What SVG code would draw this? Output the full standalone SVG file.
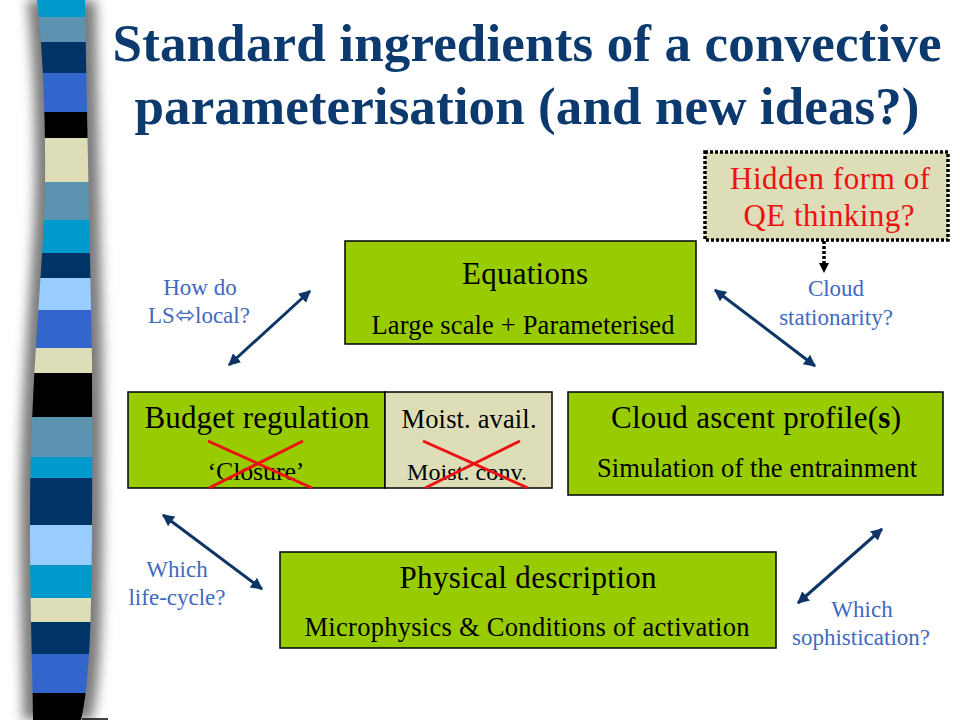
<svg xmlns="http://www.w3.org/2000/svg" width="960" height="720" viewBox="0 0 960 720">
<defs>
<style>
.box{fill:#99cc00;stroke:#000;stroke-width:1.5}
.beige{fill:#ddddb8;stroke:#000;stroke-width:1.5}
.t{font-family:"Liberation Serif","Times New Roman",serif;fill:#000;text-anchor:middle}
.h{font-size:31px}
.s{font-size:26.5px}
.lbl{font-family:"Liberation Serif","Times New Roman",serif;fill:#4169c0;font-size:23px;text-anchor:middle}
.title{font-family:"Liberation Serif","Times New Roman",serif;font-weight:bold;font-size:53px;fill:#0c3a6e;text-anchor:middle}
.red{font-family:"Liberation Serif","Times New Roman",serif;fill:#ee1111;font-size:31px;text-anchor:middle}
.arr{stroke:#0d3566;stroke-width:3;fill:none;marker-start:url(#ah);marker-end:url(#ah)}
.cross{stroke:#ee1111;stroke-width:3}
</style>
<marker id="ah" viewBox="0 0 10 10" refX="9" refY="5" markerWidth="4" markerHeight="4" orient="auto-start-reverse" markerUnits="strokeWidth">
<path d="M0,0 L10,5 L0,10 Z" fill="#0d3566"/>
</marker>
<clipPath id="stripeClip">
<path d="M37,0 C44,60 47,150 44,220 C40,300 30,400 30,520 C30,620 33,680 33,720 L81,720 C86,700 90,660 91,600 C93,500 92,400 92,360 C90,250 87,120 85,0 Z"/>
</clipPath>
<filter id="blur" x="-50%" y="-10%" width="200%" height="120%">
<feGaussianBlur stdDeviation="6"/>
</filter>
</defs>
<rect width="960" height="720" fill="#fff"/>

<g id="stripe-bar">
<path d="M27,0 C34,60 37,150 34,220 C30,300 20,400 20,520 C20,620 23,680 23,720 L92,720 C97,700 101,660 102,600 C104,500 103,400 103,360 C101,250 98,120 96,0 Z" fill="#7c7c7c" filter="url(#blur)"/>
<g clip-path="url(#stripeClip)">
<rect x="0" y="0" width="100" height="17" fill="#0099cc"/>
<rect x="0" y="17" width="100" height="25" fill="#5b93b0"/>
<rect x="0" y="42" width="100" height="31" fill="#003366"/>
<rect x="0" y="73" width="100" height="39" fill="#3366cc"/>
<rect x="0" y="112" width="100" height="26" fill="#000000"/>
<rect x="0" y="138" width="100" height="44" fill="#ddddb8"/>
<rect x="0" y="182" width="100" height="38" fill="#5b93b0"/>
<rect x="0" y="220" width="100" height="33" fill="#0099cc"/>
<rect x="0" y="253" width="100" height="25" fill="#003366"/>
<rect x="0" y="278" width="100" height="32" fill="#99ccff"/>
<rect x="0" y="310" width="100" height="38" fill="#3366cc"/>
<rect x="0" y="348" width="100" height="25" fill="#ddddb8"/>
<rect x="0" y="373" width="100" height="44" fill="#000000"/>
<rect x="0" y="417" width="100" height="40" fill="#5b93b0"/>
<rect x="0" y="457" width="100" height="21" fill="#0099cc"/>
<rect x="0" y="478" width="100" height="47" fill="#003366"/>
<rect x="0" y="525" width="100" height="40" fill="#99ccff"/>
<rect x="0" y="565" width="100" height="33" fill="#0099cc"/>
<rect x="0" y="598" width="100" height="24" fill="#ddddb8"/>
<rect x="0" y="622" width="100" height="32" fill="#003366"/>
<rect x="0" y="654" width="100" height="39" fill="#3366cc"/>
<rect x="0" y="693" width="100" height="27" fill="#000000"/>
</g>
<line x1="82" y1="719" x2="108" y2="719" stroke="#000" stroke-width="1.5"/>
</g>

<g id="title">
<text class="title" x="527" y="61" textLength="829">Standard ingredients of a convective</text>
<text class="title" x="527" y="124" textLength="785">parameterisation (and new ideas?)</text>
</g>

<g id="connectors">
<line class="arr" x1="229" y1="365" x2="310" y2="291"/>
<line class="arr" x1="715" y1="290" x2="815" y2="366"/>
<line class="arr" x1="163" y1="515" x2="262" y2="589"/>
<line class="arr" x1="882" y1="529" x2="798" y2="603"/>
<line x1="824" y1="241" x2="824" y2="264" stroke="#000" stroke-width="3.5" stroke-dasharray="3 2"/>
<path d="M819,263 L829,263 L824,273 Z" fill="#000"/>
</g>

<g id="node-equations">
<rect class="box" x="345" y="241" width="351" height="103"/>
<text class="t h" x="525" y="284" textLength="126">Equations</text>
<text class="t s" x="523" y="334" textLength="303">Large scale + Parameterised</text>
</g>

<g id="node-budget">
<rect class="box" x="128" y="392" width="257" height="96"/>
<text class="t h" x="257" y="428" textLength="225">Budget regulation</text>
<text class="t" x="256" y="480" font-size="26" textLength="97">‘Closure’</text>
<line class="cross" x1="208" y1="441" x2="312" y2="488"/>
<line class="cross" x1="303" y1="441" x2="209" y2="488"/>
</g>

<g id="node-moist">
<rect class="beige" x="385" y="392" width="167" height="96"/>
<text class="t s" x="469" y="428" textLength="135">Moist. avail.</text>
<text class="t" x="467" y="480" font-size="24" textLength="120">Moist. conv.</text>
<line class="cross" x1="423" y1="441" x2="528" y2="488"/>
<line class="cross" x1="520" y1="441" x2="425" y2="488"/>
</g>

<g id="node-cloud">
<rect class="box" x="568" y="392" width="375" height="103"/>
<text class="t h" x="756" y="428" textLength="290">Cloud ascent profile(<tspan font-weight="bold">s</tspan>)</text>
<text class="t s" x="757" y="477" textLength="320">Simulation of the entrainment</text>
</g>

<g id="node-physical">
<rect class="box" x="280" y="552" width="496" height="96"/>
<text class="t h" x="528" y="588" textLength="257">Physical  description</text>
<text class="t s" x="527" y="636" textLength="445">Microphysics &amp; Conditions of  activation</text>
</g>

<g id="node-hidden">
<rect x="705" y="152" width="243" height="88" fill="#ddddb8" stroke="#000" stroke-width="3.5" stroke-dasharray="3 2"/>
<text class="red" x="830" y="189" textLength="200">Hidden form of</text>
<text class="red" x="829" y="226" textLength="171">QE thinking?</text>
</g>

<g id="labels">
<text class="lbl" x="200" y="295">How do</text>
<text class="lbl" x="199" y="323">LS<tspan font-family="DejaVu Sans, sans-serif" font-size="24">⬄</tspan>local?</text>
<text class="lbl" x="836" y="296">Cloud</text>
<text class="lbl" x="836" y="325">stationarity?</text>
<text class="lbl" x="177" y="577">Which</text>
<text class="lbl" x="177" y="605">life-cycle?</text>
<text class="lbl" x="862" y="617">Which</text>
<text class="lbl" x="861" y="645">sophistication?</text>
</g>
</svg>
